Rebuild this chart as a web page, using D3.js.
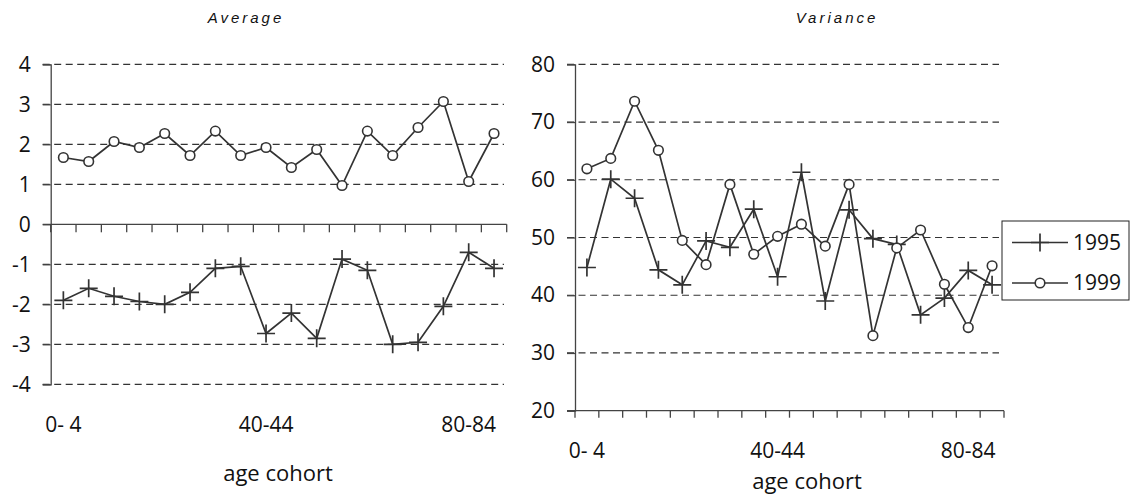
<!DOCTYPE html>
<html>
<head>
<meta charset="utf-8">
<script src="https://cdn.jsdelivr.net/npm/d3@7"></script>
<style>
  body { margin: 0; background: #fff; }
  svg text { font-family: "Open Sans", "Noto Sans", sans-serif; fill: #111; }
  .title { font-family: "Liberation Sans", Arial, sans-serif; font-style: italic; }
</style>
</head>
<body>
<script>
var cohorts = ['0- 4', '5- 9', '10-14', '15-19', '20-24', '25-29', '30-34', '35-39', '40-44',
    '45-49', '50-54', '55-59', '60-64', '65-69', '70-74', '75-79', '80-84', '85+']
var shownCohorts = ['0- 4', '40-44', '80-84']

var avg1995 = [-1.9, -1.6, -1.8, -1.93, -2.0, -1.7, -1.1, -1.05, -2.73, -2.22, -2.85, -0.87,
    -1.15, -3.0, -2.95, -2.05, -0.7, -1.1]
var avg1999 = [1.67, 1.57, 2.07, 1.92, 2.27, 1.72, 2.33, 1.72, 1.92, 1.42, 1.87, 0.97,
    2.33, 1.72, 2.42, 3.07, 1.07, 2.27]

var var1995 = [44.8, 60.1, 56.8, 44.4, 41.8, 49.4, 48.3, 54.9, 43.2, 61.3, 39.0, 54.8,
    49.8, 48.8, 36.6, 39.5, 44.3, 41.8]
var var1999 = [61.9, 63.7, 73.6, 65.1, 49.5, 45.3, 59.2, 47.1, 50.2, 52.3, 48.5, 59.2,
    33.0, 48.2, 51.3, 41.9, 34.4, 45.1]

var avgTicks = [4, 3, 2, 1, 0, -1, -2, -3, -4]
var varTicks = [80, 70, 60, 50, 40, 30, 20]
var legendYears = ['1995', '1999']

var width = 1131
var height = 495
var lineColor = '#333'
var axisColor = '#444'

var svg = d3.select('body')
    .append('svg')
    .attr('width', width)
    .attr('height', height)

// ---- left panel: Average ----
var xA = d3.scaleBand().domain(cohorts).range([50.7, 506.7])
var yA = d3.scaleLinear().domain([-4, 4]).range([384.3, 64.3])

drawPanel({
    x: xA, y: yA, ticks: avgTicks, gridEnd: 504,
    axisValue: 0, tickLen: 8, labelY: 432,
    title: 'Average', titleX: 246, captionX: 278, captionY: 481
})
plotSeries(xA, yA, avg1995, 'plus')
plotSeries(xA, yA, avg1999, 'circle')

// ---- right panel: Variance ----
var xV = d3.scaleBand().domain(cohorts).range([575, 1004])
var yV = d3.scaleLinear().domain([20, 80]).range([410.7, 64.3])

drawPanel({
    x: xV, y: yV, ticks: varTicks, gridEnd: 999,
    axisValue: 20, tickLen: 7, labelY: 458,
    title: 'Variance', titleX: 837, captionX: 807, captionY: 489
})
plotSeries(xV, yV, var1995, 'plus')
plotSeries(xV, yV, var1999, 'circle')

// legend
var legend = svg.append('g').attr('transform', 'translate(1002,221)')
legend.append('rect')
    .attr('width', 127).attr('height', 79)
    .attr('fill', '#fff').attr('stroke', '#222').attr('stroke-width', 1)
legendYears.forEach(function (year, i) {
    var row = legend.append('g').attr('transform', 'translate(0,' + (21.5 + i * 40.5) + ')')
    row.append('line')
        .attr('x1', 10).attr('x2', 66)
        .attr('stroke', lineColor).attr('stroke-width', 1.7)
    drawMarker(row, 38, 0, i == 0 ? 'plus' : 'circle')
    row.append('text')
        .attr('x', 71).attr('dy', '0.35em')
        .style('font-size', '21px')
        .text(year)
})

function drawPanel(o) {
    var g = svg.append('g')
    var x0 = o.x.range()[0]
    var x1 = o.x.range()[1]

    // dashed gridlines
    g.selectAll('.grid')
        .data(o.ticks.filter(function (t) { return t != o.axisValue }))
        .enter().append('line')
        .attr('x1', x0 - 8).attr('x2', o.gridEnd)
        .attr('y1', function (d) { return o.y(d) })
        .attr('y2', function (d) { return o.y(d) })
        .attr('stroke', lineColor)
        .attr('stroke-width', 1.2)
        .attr('stroke-dasharray', '7,4.5')

    // y axis
    var yAxis = d3.axisLeft(o.y).tickValues(o.ticks).tickSize(8).tickPadding(12)
        .tickFormat(d3.format('d'))
    var yg = g.append('g').attr('transform', 'translate(' + x0 + ',0)').call(yAxis)
    yg.select('.domain').attr('stroke', axisColor).attr('stroke-width', 1.3)
    yg.selectAll('.tick line').attr('stroke', axisColor).attr('stroke-width', 1.3)
    yg.selectAll('.tick text').style('font-size', '21px').attr('fill', '#111')
        .text(function (d) { return d < 0 ? '-' + Math.abs(d) : d })

    // category axis line with ticks at band edges
    var ay = o.y(o.axisValue)
    g.append('line')
        .attr('x1', x0 - 8).attr('x2', x1)
        .attr('y1', ay).attr('y2', ay)
        .attr('stroke', axisColor).attr('stroke-width', 1.3)
    var edges = d3.range(cohorts.length + 1)
    g.selectAll('.xtick')
        .data(edges)
        .enter().append('line')
        .attr('x1', function (i) { return x0 + i * o.x.step() })
        .attr('x2', function (i) { return x0 + i * o.x.step() })
        .attr('y1', ay).attr('y2', ay + o.tickLen)
        .attr('stroke', axisColor).attr('stroke-width', 1.3)

    // category labels (every 8th), sitting at the bottom of the panel
    g.selectAll('.xlabel')
        .data(shownCohorts)
        .enter().append('text')
        .attr('x', function (d) { return o.x(d) + o.x.bandwidth() / 2 })
        .attr('y', o.labelY)
        .attr('text-anchor', 'middle')
        .style('font-size', '21px')
        .text(function (d) { return d })

    g.append('text')
        .attr('x', o.captionX).attr('y', o.captionY)
        .attr('text-anchor', 'middle')
        .style('font-size', '22px')
        .text('age cohort')

    g.append('text')
        .attr('class', 'title')
        .attr('x', o.titleX).attr('y', 23)
        .attr('text-anchor', 'middle')
        .style('font-size', '15px')
        .style('letter-spacing', '3px')
        .text(o.title)
}

function plotSeries(x, y, values, marker) {
    var pts = values.map(function (v, i) {
        return [x(cohorts[i]) + x.bandwidth() / 2, y(v)]
    })
    svg.append('path')
        .datum(pts)
        .attr('fill', 'none')
        .attr('stroke', lineColor)
        .attr('stroke-width', 1.7)
        .attr('d', d3.line())
    var g = svg.append('g')
    pts.forEach(function (p) { drawMarker(g, p[0], p[1], marker) })
}

function drawMarker(g, cx, cy, marker) {
    if (marker == 'plus') {
        g.append('path')
            .attr('d', 'M' + (cx - 9) + ',' + cy + 'H' + (cx + 9) + 'M' + cx + ',' + (cy - 9) + 'V' + (cy + 9))
            .attr('stroke', lineColor)
            .attr('stroke-width', 1.7)
            .attr('fill', 'none')
    } else {
        g.append('circle')
            .attr('cx', cx).attr('cy', cy).attr('r', 4.8)
            .attr('fill', '#fff')
            .attr('stroke', lineColor)
            .attr('stroke-width', 1.6)
    }
}
</script>
</body>
</html>
